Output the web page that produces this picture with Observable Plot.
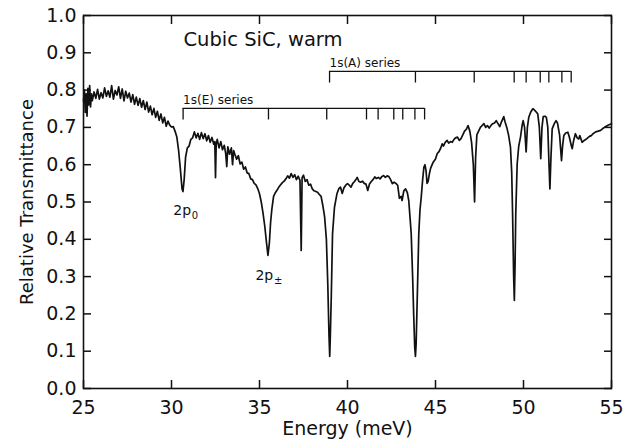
<!DOCTYPE html>
<html><head><meta charset="utf-8">
<script src="https://cdn.jsdelivr.net/npm/d3@7"></script>
<script src="https://cdn.jsdelivr.net/npm/@observablehq/plot@0.6"></script>
<style>html,body{margin:0;padding:0;background:#fff}</style>
</head><body><div id="chart"></div>
<script>
const energy = [
25.00,25.05,25.10,25.15,25.20,25.25,25.30,25.35,25.40,25.45,25.50,25.60,25.70,25.80,25.90,
26.00,26.10,26.20,26.30,26.40,26.50,26.60,26.70,26.80,26.90,27.00,27.10,27.20,27.30,27.40,
27.50,27.60,27.70,27.80,27.90,28.00,28.10,28.20,28.30,28.40,28.50,28.60,28.70,28.80,28.90,
29.00,29.10,29.20,29.30,29.40,29.50,29.60,29.70,29.80,29.90,30.00,30.10,30.20,30.30,30.40,
30.50,30.60,30.65,30.72,30.80,30.90,31.00,31.10,31.20,31.30,31.40,31.50,31.60,31.70,31.80,
31.90,32.00,32.10,32.20,32.30,32.40,32.46,32.50,32.54,32.60,32.70,32.80,32.90,33.00,33.08,
33.14,33.20,33.30,33.40,33.47,33.53,33.60,33.70,33.80,33.90,34.00,34.10,34.20,34.30,34.40,
34.50,34.60,34.70,34.80,34.90,35.00,35.10,35.20,35.30,35.40,35.48,35.56,35.63,35.70,35.80,
35.90,36.00,36.10,36.20,36.30,36.40,36.50,36.60,36.70,36.80,36.90,37.00,37.10,37.20,37.30,
37.37,37.42,37.50,37.60,37.70,37.80,37.90,38.00,38.10,38.20,38.30,38.40,38.50,38.60,38.70,
38.80,38.88,38.95,38.99,39.03,39.08,39.15,39.26,39.40,39.50,39.60,39.70,39.80,39.90,40.00,
40.10,40.20,40.30,40.40,40.50,40.55,40.65,40.75,40.85,40.95,41.05,41.15,41.25,41.35,41.45,
41.55,41.65,41.75,41.85,41.95,42.05,42.15,42.25,42.35,42.45,42.55,42.65,42.75,42.85,42.95,
43.05,43.10,43.20,43.30,43.40,43.48,43.55,43.62,43.70,43.76,43.82,43.86,43.90,43.96,44.05,
44.12,44.19,44.27,44.34,44.40,44.46,44.52,44.58,44.65,44.72,44.85,45.00,45.10,45.20,45.30,
45.38,45.45,45.55,45.66,45.75,45.85,45.95,46.05,46.14,46.25,46.35,46.45,46.55,46.65,46.75,
46.85,46.95,47.05,47.15,47.22,47.28,47.35,47.45,47.55,47.65,47.75,47.85,47.95,48.05,48.15,
48.25,48.35,48.45,48.55,48.65,48.75,48.88,48.95,49.05,49.15,49.26,49.33,49.38,49.44,49.48,
49.52,49.56,49.64,49.73,49.83,49.92,49.98,50.06,50.15,50.22,50.30,50.40,50.50,50.55,50.65,
50.75,50.81,50.90,50.98,51.05,51.12,51.22,51.30,51.38,51.45,51.50,51.56,51.63,51.75,51.85,
51.93,52.05,52.16,52.22,52.29,52.40,52.52,52.60,52.72,52.77,52.85,52.95,53.05,53.14,53.20,
53.33,53.45,53.55,53.65,53.75,53.85,53.95,54.10,54.25,54.38,54.50,54.60,54.70,54.80,54.90,
55.00];
const transmittance = [
0.770,0.800,0.740,0.790,0.730,0.805,0.760,0.812,0.755,0.790,0.772,0.795,0.778,0.802,0.776,
0.793,0.779,0.806,0.783,0.798,0.781,0.812,0.776,0.799,0.787,0.809,0.778,0.803,0.771,0.797,
0.779,0.792,0.768,0.788,0.762,0.781,0.759,0.777,0.754,0.772,0.748,0.768,0.741,0.757,0.734,
0.751,0.727,0.743,0.719,0.736,0.712,0.727,0.703,0.717,0.706,0.701,0.702,0.690,0.675,0.640,
0.590,0.535,0.528,0.560,0.620,0.645,0.650,0.668,0.672,0.688,0.672,0.684,0.668,0.686,0.670,
0.683,0.664,0.678,0.660,0.673,0.655,0.662,0.565,0.655,0.668,0.645,0.662,0.640,0.652,0.630,
0.595,0.648,0.628,0.645,0.600,0.638,0.628,0.615,0.624,0.602,0.607,0.588,0.594,0.578,0.576,
0.562,0.560,0.550,0.546,0.536,0.522,0.500,0.470,0.435,0.390,0.357,0.390,0.445,0.480,0.515,
0.525,0.532,0.540,0.546,0.552,0.556,0.562,0.570,0.564,0.576,0.566,0.573,0.560,0.569,0.558,
0.370,0.565,0.572,0.555,0.560,0.545,0.548,0.535,0.530,0.528,0.526,0.520,0.515,0.490,0.460,
0.400,0.280,0.140,0.086,0.150,0.250,0.415,0.486,0.522,0.535,0.540,0.523,0.538,0.545,0.549,
0.545,0.540,0.550,0.555,0.562,0.566,0.555,0.553,0.556,0.550,0.548,0.531,0.548,0.555,0.560,
0.567,0.563,0.566,0.562,0.568,0.571,0.566,0.570,0.568,0.560,0.549,0.553,0.550,0.545,0.510,
0.515,0.504,0.530,0.535,0.525,0.504,0.460,0.415,0.300,0.200,0.110,0.086,0.120,0.236,0.415,
0.480,0.513,0.560,0.593,0.600,0.585,0.550,0.555,0.575,0.590,0.605,0.615,0.630,0.635,0.645,
0.656,0.650,0.660,0.665,0.658,0.662,0.660,0.668,0.672,0.674,0.665,0.670,0.680,0.690,0.695,
0.705,0.690,0.660,0.600,0.500,0.620,0.680,0.690,0.700,0.705,0.710,0.700,0.705,0.698,0.705,
0.710,0.712,0.718,0.710,0.702,0.715,0.729,0.715,0.700,0.680,0.647,0.580,0.469,0.300,0.236,
0.330,0.468,0.602,0.650,0.674,0.705,0.718,0.700,0.634,0.700,0.727,0.740,0.748,0.750,0.745,
0.740,0.736,0.700,0.616,0.700,0.729,0.730,0.727,0.700,0.600,0.535,0.620,0.696,0.710,0.718,
0.712,0.680,0.611,0.650,0.678,0.685,0.687,0.675,0.650,0.643,0.665,0.683,0.672,0.669,0.678,
0.660,0.665,0.668,0.672,0.676,0.678,0.683,0.688,0.690,0.692,0.697,0.700,0.703,0.706,0.708,
0.710];

const xTicks = [25, 30, 35, 40, 45, 50, 55];
const yTicks = [0.0, 0.1, 0.2, 0.3, 0.4, 0.5, 0.6, 0.7, 0.8, 0.9, 1.0];

const seriesNames = ["1s(E) series", "1s(A) series"];
const seriesLevels = [0.751, 0.850];
const seriesE = [30.66, 35.51, 38.82, 41.08, 41.74, 42.63, 43.14, 43.83, 44.38];
const seriesA = [38.98, 43.86, 47.20, 49.47, 50.15, 50.95, 51.44, 52.18, 52.71];

const titleText = "Cubic SiC, warm";
const titlePos = [30.68, 0.917];

const peakMain = ["2p", "2p"];
const peakSub = ["0", "±"];
const peakE = [30.10, 34.77];
const peakT = [0.464, 0.290];

const xLabel = "Energy (meV)";
const yLabel = "Relative Transmittance";

// ---- build tables
const spectrum = energy.map((e, i) => ({e, t: transmittance[i]}));
const seriesList = [seriesE, seriesA];
const tickDrop = 0.031;
const bars = seriesList.map((s, i) => ({x1: s[0], x2: s[s.length - 1], y: seriesLevels[i], name: seriesNames[i]}));
const bracketTicks = seriesList.flatMap((s, i) => s.map(e => ({e, y1: seriesLevels[i], y2: seriesLevels[i] - tickDrop})));
const peaks = peakMain.map((m, i) => ({m, s: peakSub[i], e: peakE[i], t: peakT[i]}));

const font = "DejaVu Sans, sans-serif";
const ink = "#111";

const chart = Plot.plot({
  width: 634,
  height: 444,
  marginLeft: 83,
  marginRight: 23,
  marginTop: 15,
  marginBottom: 56,
  style: {fontFamily: font, fontSize: "19px", color: ink, background: "#fff", overflow: "visible"},
  x: {domain: [25, 55], label: null},
  y: {domain: [0, 1], label: null},
  marks: [
    Plot.axisX({ticks: xTicks, anchor: "bottom", tickSize: -8, tickPadding: 20, tickFormat: d => String(d), strokeWidth: 1.5, fontSize: 19, label: null}),
    Plot.axisX({ticks: xTicks, anchor: "top", tickSize: -8, tickFormat: () => "", strokeWidth: 1.5, label: null}),
    Plot.axisY({ticks: yTicks, anchor: "left", tickSize: -8, tickPadding: 15, tickFormat: d3.format(".1f"), strokeWidth: 1.5, fontSize: 19, label: null}),
    Plot.axisY({ticks: yTicks, anchor: "right", tickSize: -8, tickFormat: () => "", strokeWidth: 1.5, label: null}),
    Plot.frame({stroke: ink, strokeWidth: 1.6}),
    Plot.line(spectrum, {x: "e", y: "t", stroke: ink, strokeWidth: 1.7, strokeLinejoin: "round"}),
    Plot.ruleY(bars, {x1: "x1", x2: "x2", y: "y", stroke: ink, strokeWidth: 1.3}),
    Plot.ruleX(bracketTicks, {x: "e", y1: "y1", y2: "y2", stroke: ink, strokeWidth: 1.3}),
    Plot.text(bars, {x: "x1", y: "y", text: "name", textAnchor: "start", lineAnchor: "bottom", dy: -4, fontSize: 12, fill: ink}),
    Plot.text([titleText], {x: () => titlePos[0], y: () => titlePos[1], text: d => d, textAnchor: "start", lineAnchor: "bottom", fontSize: 19.5, fill: ink}),
    Plot.text(peaks, {x: "e", y: "t", text: "m", textAnchor: "start", lineAnchor: "bottom", fontSize: 14, fill: ink}),
    Plot.text(peaks, {x: "e", y: "t", text: "s", textAnchor: "start", lineAnchor: "bottom", dx: 18.5, dy: 4, fontSize: 10, fill: ink}),
    Plot.text([xLabel], {frameAnchor: "bottom", text: d => d, textAnchor: "middle", lineAnchor: "bottom", dy: 46, fontSize: 19, fill: ink}),
    Plot.text([yLabel], {frameAnchor: "left", text: d => d, rotate: -90, textAnchor: "middle", lineAnchor: "bottom", dx: -51, fontSize: 18, fill: ink})
  ]
});
document.getElementById("chart").appendChild(chart);
</script>
</body></html>
